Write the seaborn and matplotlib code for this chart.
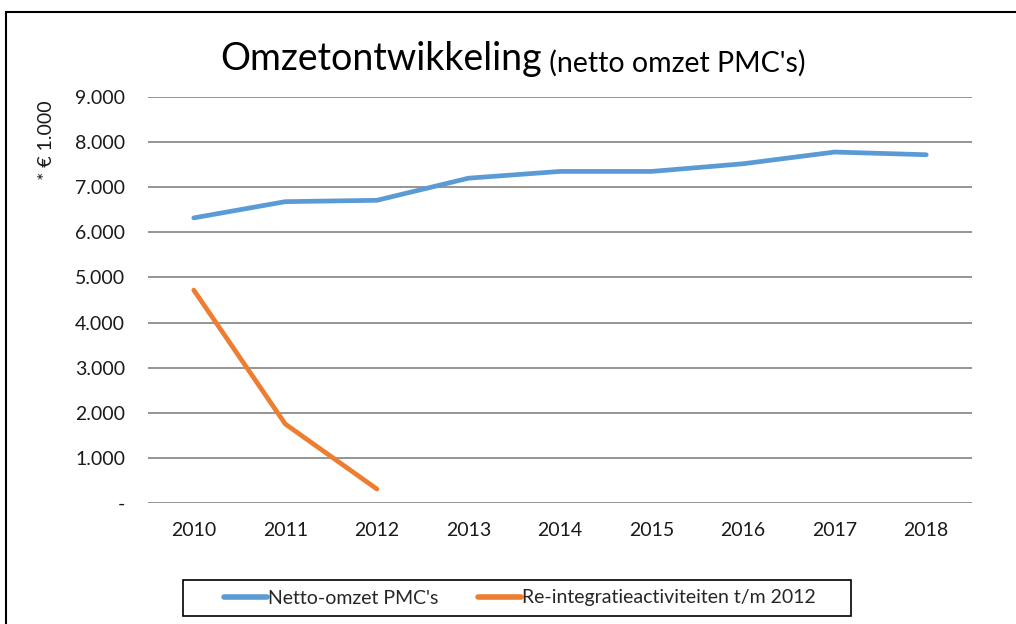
import numpy as np
import pandas as pd
import seaborn as sns
import matplotlib.pyplot as plt
from matplotlib.patches import Rectangle
from matplotlib.ticker import FuncFormatter

years = [2010, 2011, 2012, 2013, 2014, 2015, 2016, 2017, 2018]
netto_omzet = [6320, 6680, 6710, 7200, 7350, 7350, 7520, 7780, 7720]
reintegratie = [4720, 1750, 310, np.nan, np.nan, np.nan, np.nan, np.nan, np.nan]
series_names = ["Netto-omzet PMC's", "Re-integratieactiviteiten t/m 2012"]
colors = ["#5B9BD5", "#ED7D31"]

df = pd.DataFrame({
    "jaar": years * 2,
    "waarde": netto_omzet + reintegratie,
    "reeks": [series_names[0]] * len(years) + [series_names[1]] * len(years),
})

sns.set_theme(style="white")
plt.rcParams["font.family"] = ["Lato", "DejaVu Sans"]

fig = plt.figure(figsize=(10.16, 6.24), dpi=100)
ax = fig.add_axes([148 / 1016, 1 - 503 / 624, 824 / 1016, 406 / 624])

sns.lineplot(data=df, x="jaar", y="waarde", hue="reeks", palette=colors,
             linewidth=3.4, ax=ax, legend=True)
for line in ax.get_lines():
    line.set_solid_capstyle("round")

ax.set_xlim(2009.5, 2018.5)
ax.set_ylim(0, 9000)
ax.set_xticks(years)
ax.set_yticks(range(0, 9001, 1000))
ax.yaxis.set_major_formatter(FuncFormatter(
    lambda v, p: "-" if v == 0 else f"{int(v):,}".replace(",", ".")))
ax.grid(axis="y", color="#8c8c8c", linewidth=1.3)
ax.set_axisbelow(True)
for s in ax.spines.values():
    s.set_visible(False)
ax.tick_params(axis="both", length=0, labelsize=14, colors="#1a1a1a")
ax.tick_params(axis="y", pad=16.5)
ax.tick_params(axis="x", pad=13.5)
ax.set_xlabel("")
ax.set_ylabel("* € 1.000", fontsize=14, color="#1a1a1a")
ax.yaxis.set_label_coords(-0.113, 0.894)

# titel in twee delen
t1 = fig.text(220 / 1016, 1 - 70 / 624, "Omzetontwikkeling", fontsize=27,
              ha="left", va="baseline", color="black")
ax.annotate(" (netto omzet PMC's)", xy=(1, 0), xycoords=t1, fontsize=20.5,
            ha="left", va="bottom", color="black")

handles, labels = ax.get_legend_handles_labels()
for h in handles:
    h.set_linewidth(4.0)
ax.legend(handles, labels, ncol=2, loc="center",
          bbox_to_anchor=(520 / 1016, 1 - 598 / 624), bbox_transform=fig.transFigure,
          frameon=False, fontsize=14,
          handlelength=2.2, handletextpad=0.1, columnspacing=2.0,
          borderpad=0.3, borderaxespad=0)

# legendakader
fig.patches.append(Rectangle((183 / 1016, 1 - 616 / 624), 668 / 1016, 36 / 624,
                             transform=fig.transFigure, fill=False,
                             edgecolor="black", linewidth=1.2))

# kader om de grafiek
fig.patches.append(Rectangle((6 / 1016, -0.01), 1.1, 1 - 12 / 624 + 0.01,
                             transform=fig.transFigure, fill=False,
                             edgecolor="black", linewidth=1.5))

fig.savefig("out.png", dpi=100)
